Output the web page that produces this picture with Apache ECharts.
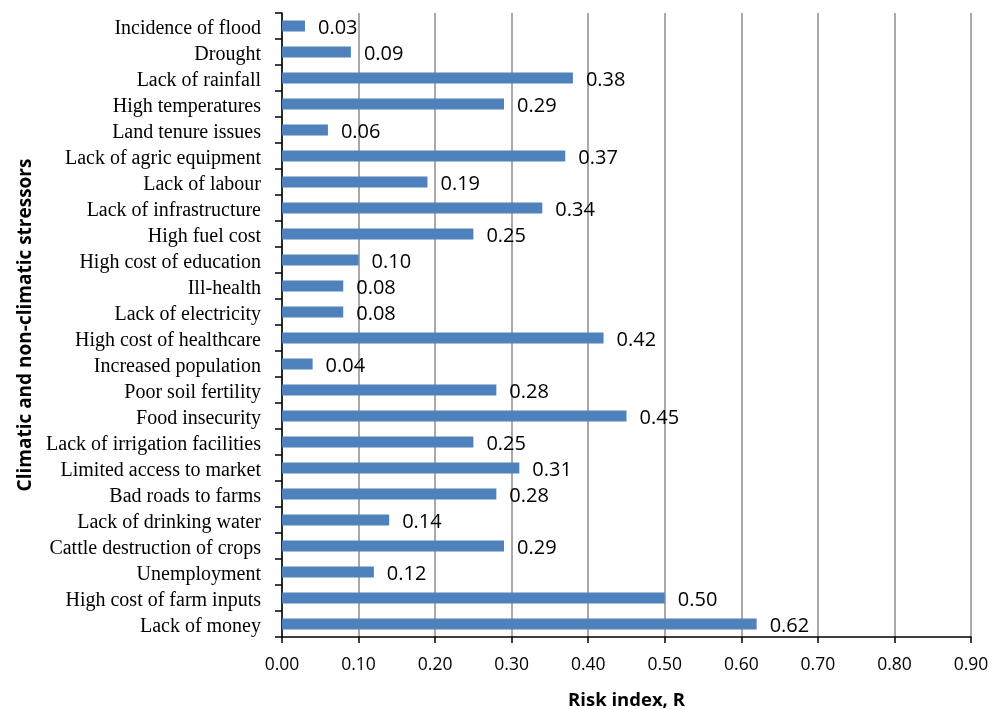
<!DOCTYPE html>
<html>
<head>
<meta charset="utf-8">
<script src="https://cdn.jsdelivr.net/npm/echarts@6/dist/echarts.min.js"></script>
<style>
  html, body { margin: 0; padding: 0; background: #fff; }
  #chart { width: 998px; height: 709px; }
</style>
</head>
<body>
<div id="chart"></div>
<script>
// Stressors, listed top to bottom
const stressors = [
  'Incidence of flood', 'Drought', 'Lack of rainfall', 'High temperatures',
  'Land tenure issues', 'Lack of agric equipment', 'Lack of labour',
  'Lack of infrastructure', 'High fuel cost', 'High cost of education',
  'Ill-health', 'Lack of electricity', 'High cost of healthcare',
  'Increased population', 'Poor soil fertility', 'Food insecurity',
  'Lack of irrigation facilities', 'Limited access to market',
  'Bad roads to farms', 'Lack of drinking water',
  'Cattle destruction of crops', 'Unemployment',
  'High cost of farm inputs', 'Lack of money'
];
// Risk index R for each stressor
const riskIndex = [
  0.03, 0.09, 0.38, 0.29, 0.06, 0.37, 0.19, 0.34, 0.25, 0.10, 0.08, 0.08,
  0.42, 0.04, 0.28, 0.45, 0.25, 0.31, 0.28, 0.14, 0.29, 0.12, 0.50, 0.62
];
const xTicks = { min: 0, max: 0.9, step: 0.1 };

const chart = echarts.init(document.getElementById('chart'));
chart.setOption({
  animation: false,
  backgroundColor: '#fff',
  grid: {
    left: 282, top: 13, right: 27, bottom: 72,
    containLabel: false,
    outerBoundsMode: 'none'
  },
  xAxis: {
    type: 'value',
    min: xTicks.min, max: xTicks.max, interval: xTicks.step,
    name: 'Risk index, R',
    nameLocation: 'middle',
    nameGap: 54,
    nameTextStyle: { fontFamily: 'Open Sans', fontWeight: 'bold', fontSize: 18.5, color: '#000' },
    axisLine: { show: true, lineStyle: { color: '#000', width: 1.5 } },
    axisTick: { show: true, length: 6, lineStyle: { color: '#000', width: 1.5 } },
    axisLabel: {
      fontFamily: 'Open Sans', fontSize: 17.5, color: '#000', margin: 19,
      formatter: v => v.toFixed(2)
    },
    splitLine: { show: true, lineStyle: { color: '#8c8c8c', width: 1.5 } }
  },
  yAxis: {
    type: 'category',
    data: stressors,
    inverse: true,
    name: 'Climatic and non-climatic stressors',
    nameLocation: 'middle',
    nameGap: 247,
    nameRotate: 90,
    nameTextStyle: { fontFamily: 'Open Sans', fontWeight: 'bold', fontSize: 19, color: '#000' },
    axisLine: { show: true, lineStyle: { color: '#000', width: 1.5 } },
    axisTick: { show: true, interval: 0, alignWithLabel: false, length: 7, lineStyle: { color: '#000', width: 1.5 } },
    axisLabel: {
      interval: 0, hideOverlap: false,
      margin: 21,
      formatter: v => '{s|' + v + '}',
      rich: {
        s: {
          fontFamily: 'Liberation Serif', fontSize: 20, color: '#000',
          padding: [6, 0, 0, 0]
        }
      }
    },
    splitLine: { show: false }
  },
  series: [{
    type: 'bar',
    data: riskIndex,
    barWidth: 11,
    itemStyle: { color: '#4f81bd' },
    label: {
      show: true,
      position: 'right',
      distance: 13,
      offset: [0, 2],
      fontFamily: 'Open Sans',
      fontSize: 20,
      color: '#000',
      formatter: p => p.value.toFixed(2)
    }
  }]
});
</script>
</body>
</html>
